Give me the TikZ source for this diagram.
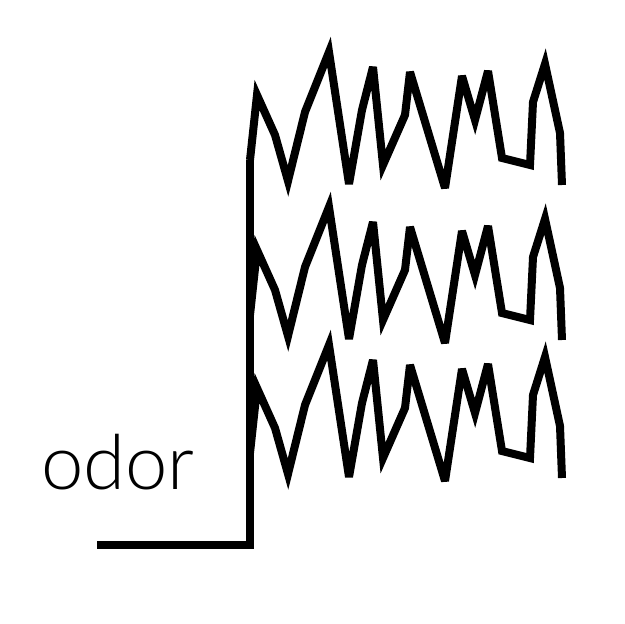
\documentclass[tikz,border=0pt]{standalone}
\usepackage{fontspec}
\IfFontExistsTF{Lato Light}{\setmainfont{Lato Light}}{%
  \IfFontExistsTF{Fira Sans Light}{\setmainfont{Fira Sans Light}}{\setmainfont{Open Sans}}}
\usetikzlibrary{positioning}

\begin{document}
\begin{tikzpicture}[
  x=1pt, y=-1pt,
  response/.style={line width=8pt, line join=miter, miter limit=4},
  odorlabel/.style={font=\fontsize{76}{86}\selectfont, inner sep=0pt, anchor=base west}
]
\useasboundingbox (0,0) rectangle (624,624);

% stimulus step
\coordinate (onset) at (97,545);
\coordinate (corner) at (250,545);
\coordinate (top) at (250,160);
\draw[response] (onset) -- (corner) -- (top);

\node[odorlabel] (odor) at (41,489) {odor};

% three recorded traces
\foreach \shift in {0,155,293}
  \draw[response, yshift=-\shift pt] (250,160) -- (257,95) -- (275,135) -- (288,181)
    -- (305,112) -- (329,52) -- (349,184) -- (362,110) -- (373,67) -- (383,165)
    -- (405,115) -- (410,72) -- (445,188) -- (462,76) -- (475,120) -- (488,71)
    -- (502,158) -- (530,165) -- (533,102) -- (545,64) -- (560,133) -- (562,185);

\end{tikzpicture}
\end{document}
